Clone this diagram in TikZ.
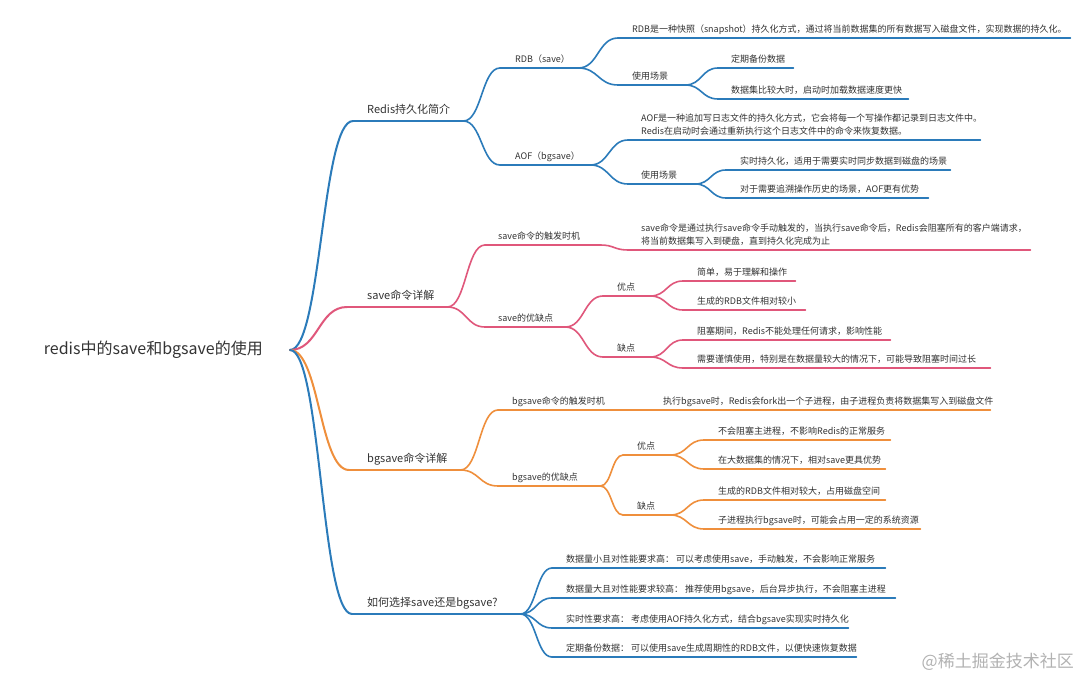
\documentclass[tikz,border=0pt]{standalone}
\usepackage{fontspec}
\setmainfont{Noto Sans CJK SC}
\usetikzlibrary{calc}
\definecolor{mblue}{HTML}{2B7BBA}
\definecolor{mpink}{HTML}{E0577B}
\definecolor{morange}{HTML}{EF8F3C}
\definecolor{txt}{HTML}{333333}
\newcommand\mmtx[3]{\makebox[#1][l]{\hspace*{#2}#3}}
\newcommand\mmtxx[4]{\makebox[#1][l]{\hspace*{#2}\begin{tabular}[b]{@{}l@{}}#3\\#4\end{tabular}}}
\begin{document}
\begin{tikzpicture}[x=1pt,y=-1pt,
  every node/.style={text=txt},
  mm/.style={to path={let \p1=(\tikztostart), \p2=(\tikztotarget), \n1={0.5*(\x2-\x1)} in .. controls +(\n1,0) and +(-\n1,0) .. (\tikztotarget)}},
  topic/.style={anchor=south west, inner xsep=0pt, inner ysep=4pt, text depth=1.5pt, font=\fontsize{9}{13}\selectfont},
  main/.style={anchor=south west, inner xsep=0pt, inner ysep=5pt, text depth=2pt, font=\fontsize{11}{14}\selectfont},
  ln/.style={line width=1.6pt, line cap=round},
  lnm/.style={line width=2pt, line cap=round},
]
\fill[white] (0,0) rectangle (1080,679);
\useasboundingbox (0,0) rectangle (1080,679);

% root
\node[font=\fontsize{16}{18}\selectfont, anchor=east, inner xsep=27pt] (root) at (290,350) {redis中的save和bgsave的使用};

% level 1
\node[main] (n1) at (353,121) {\mmtx{110pt}{14pt}{Redis持久化简介}};
\node[main] (n2) at (347,307) {\mmtx{100pt}{20pt}{save命令详解}};
\node[main] (n3) at (349,470) {\mmtx{111pt}{18pt}{bgsave命令详解}};
\node[main] (n4) at (352,614) {\mmtx{168pt}{15pt}{如何选择save还是bgsave?}};

% Redis persistence
\node[topic] (a1) at (500,68) {\mmtx{78pt}{15pt}{RDB（save）}};
\node[topic] (b1) at (618,38) {\mmtx{452pt}{14pt}{RDB是一种快照（snapshot）持久化方式，通过将当前数据集的所有数据写入磁盘文件，实现数据的持久化。}};
\node[topic] (b2) at (618,85) {\mmtx{67pt}{14pt}{使用场景}};
\node[topic] (c1) at (718,68) {\mmtx{75pt}{13pt}{定期备份数据}};
\node[topic] (c2) at (718,99) {\mmtx{190pt}{13pt}{数据集比较大时，启动时加载数据速度更快}};
\node[topic] (a2) at (500,165) {\mmtx{90pt}{15pt}{AOF（bgsave）}};
\node[topic] (b3) at (628,140) {\mmtxx{352pt}{13pt}{AOF是一种追加写日志文件的持久化方式，它会将每一个写操作都记录到日志文件中。}{Redis在启动时会通过重新执行这个日志文件中的命令来恢复数据。}};
\node[topic] (b4) at (628,184) {\mmtx{67pt}{13pt}{使用场景}};
\node[topic] (c3) at (726,170) {\mmtx{224pt}{14pt}{实时持久化，适用于需要实时同步数据到磁盘的场景}};
\node[topic] (c4) at (726,198) {\mmtx{202pt}{14pt}{对于需要追溯操作历史的场景，AOF更有优势}};

% save
\node[topic] (d1) at (485,245) {\mmtx{115pt}{13pt}{save命令的触发时机}};
\node[topic] (e1) at (628,250) {\mmtxx{402pt}{13pt}{save命令是通过执行save命令手动触发的，当执行save命令后，Redis会阻塞所有的客户端请求，}{将当前数据集写入到硬盘，直到持久化完成为止}};
\node[topic] (d2) at (485,327) {\mmtx{80pt}{13pt}{save的优缺点}};
\node[topic] (f1) at (603,296) {\mmtx{47pt}{14pt}{优点}};
\node[topic] (g1) at (683,281) {\mmtx{112pt}{14pt}{简单，易于理解和操作}};
\node[topic] (g2) at (683,310) {\mmtx{122pt}{14pt}{生成的RDB文件相对较小}};
\node[topic] (f2) at (603,357) {\mmtx{47pt}{14pt}{缺点}};
\node[topic] (g3) at (683,340) {\mmtx{207pt}{14pt}{阻塞期间，Redis不能处理任何请求，影响性能}};
\node[topic] (g4) at (683,368) {\mmtx{307pt}{14pt}{需要谨慎使用，特别是在数据量较大的情况下，可能导致阻塞时间过长}};

% bgsave
\node[topic] (h1) at (498,410) {\mmtx{142pt}{14pt}{bgsave命令的触发时机}};
\node[topic] (i1) at (640,410) {\mmtx{350pt}{23pt}{执行bgsave时，Redis会fork出一个子进程，由子进程负责将数据集写入到磁盘文件}};
\node[topic] (h2) at (498,486) {\mmtx{102pt}{14pt}{bgsave的优缺点}};
\node[topic] (j1) at (623,455) {\mmtx{47pt}{14pt}{优点}};
\node[topic] (k1) at (704,440) {\mmtx{186pt}{14pt}{不会阻塞主进程，不影响Redis的正常服务}};
\node[topic] (k2) at (704,469) {\mmtx{181pt}{14pt}{在大数据集的情况下，相对save更具优势}};
\node[topic] (j2) at (623,515) {\mmtx{47pt}{14pt}{缺点}};
\node[topic] (k3) at (704,500) {\mmtx{181pt}{14pt}{生成的RDB文件相对较大，占用磁盘空间}};
\node[topic] (k4) at (704,529) {\mmtx{216pt}{14pt}{子进程执行bgsave时，可能会占用一定的系统资源}};

% choice
\node[topic] (m1) at (552,568) {\mmtx{333pt}{14pt}{数据量小且对性能要求高： 可以考虑使用save，手动触发，不会影响正常服务}};
\node[topic] (m2) at (552,598) {\mmtx{343pt}{14pt}{数据量大且对性能要求较高： 推荐使用bgsave，后台异步执行，不会阻塞主进程}};
\node[topic] (m3) at (552,628) {\mmtx{296pt}{14pt}{实时性要求高： 考虑使用AOF持久化方式，结合bgsave实现实时持久化}};
\node[topic] (m4) at (552,657) {\mmtx{304pt}{14pt}{定期备份数据： 可以使用save生成周期性的RDB文件，以便快速恢复数据}};

% watermark
\node[anchor=east, text=black!30, font=\fontsize{17}{20}\selectfont, inner sep=0pt] (wm) at (1074,662) {@稀土掘金技术社区};

% root connectors
\draw[lnm,mblue] (root.east) to[mm] (n1.south west);
\draw[lnm,mpink] (root.east) to[mm] (n2.south west);
\draw[lnm,morange] (root.east) to[mm] (n3.south west);
\draw[lnm,mblue] (root.east) to[mm] (n4.south west);

% level 1 underlines
\draw[lnm,mblue] (n1.south west) -- (n1.south east);
\draw[lnm,mpink] (n2.south west) -- (n2.south east);
\draw[lnm,morange] (n3.south west) -- (n3.south east);
\draw[lnm,mblue] (n4.south west) -- (n4.south east);

% underlines
\foreach \n in {a1,b1,b2,c1,c2,a2,b3,b4,c3,c4,m1,m2,m3,m4}
  \draw[ln,mblue] (\n.south west) -- (\n.south east);
\foreach \n in {d1,e1,d2,f1,g1,g2,f2,g3,g4}
  \draw[ln,mpink] (\n.south west) -- (\n.south east);
\foreach \n in {h1,i1,h2,j1,k1,k2,j2,k3,k4}
  \draw[ln,morange] (\n.south west) -- (\n.south east);

% connectors
\foreach \p/\c in {n1/a1,n1/a2,a1/b1,a1/b2,b2/c1,b2/c2,a2/b3,a2/b4,b4/c3,b4/c4,n4/m1,n4/m2,n4/m3,n4/m4}
  \draw[ln,mblue] (\p.south east) to[mm] (\c.south west);
\foreach \p/\c in {n2/d1,n2/d2,d1/e1,d2/f1,d2/f2,f1/g1,f1/g2,f2/g3,f2/g4}
  \draw[ln,mpink] (\p.south east) to[mm] (\c.south west);
\foreach \p/\c in {n3/h1,n3/h2,h1/i1,h2/j1,h2/j2,j1/k1,j1/k2,j2/k3,j2/k4}
  \draw[ln,morange] (\p.south east) to[mm] (\c.south west);
\end{tikzpicture}
\end{document}
